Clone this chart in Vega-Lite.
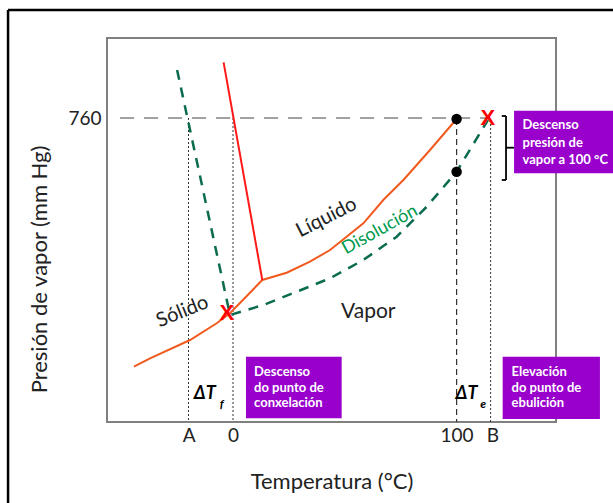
{
  "$schema": "https://vega.github.io/schema/vega-lite/v6.json",
  "width": 449,
  "height": 384,
  "autosize": {"type": "none"},
  "padding": {"left": 107, "top": 38, "right": 57, "bottom": 81},
  "background": "white",
  "config": {"font": "Lato", "view": {"stroke": "#808080", "strokeWidth": 2}},
  "datasets": {
    "frame": [
      {"T": -100.6, "P": 1030, "T2": 175, "P2": 1030},
      {"T": -100.6, "P": 1030, "T2": -100.6, "P2": -230}
    ],
    "boxes": [
      {"T": 125.7, "P": 778.25, "T2": 175, "P2": 621.75},
      {"T": 5.8, "P": 163.25, "T2": 48.6, "P2": 9.25},
      {"T": 120.6, "P": 163.25, "T2": 164.1, "P2": 7.5}
    ],
    "verts": [
      {"kind": "dot", "T": -19.9, "P": 760, "P2": 0},
      {"kind": "dot", "T": 0, "P": 760, "P2": 0},
      {"kind": "dot", "T": 115.2, "P": 755, "P2": 0},
      {"kind": "dash", "T": 100, "P": 757.5, "P2": 0}
    ],
    "hline": [{"T": -50.5, "T2": 114, "P": 760}],
    "bracket": [
      {"T": 120.2, "P": 765, "T2": 122.1, "P2": 765},
      {"T": 122.1, "P": 765, "T2": 122.1, "P2": 605},
      {"T": 120.2, "P": 605, "T2": 122.1, "P2": 605},
      {"T": 122.1, "P": 685.75, "T2": 125.7, "P2": 685.75}
    ],
    "curves": [
      {"curve": "green", "T": -25.0, "P": 880},
      {"curve": "green", "T": -1.34, "P": 267.5},
      {"curve": "green", "T": 13.55, "P": 292.5},
      {"curve": "green", "T": 28.49, "P": 325.75},
      {"curve": "green", "T": 43.38, "P": 359.25},
      {"curve": "green", "T": 58.27, "P": 405},
      {"curve": "green", "T": 73.21, "P": 463.25},
      {"curve": "green", "T": 86.63, "P": 538.25},
      {"curve": "green", "T": 100, "P": 625.75},
      {"curve": "green", "T": 114, "P": 755},
      {"curve": "orange", "T": -44.3, "P": 138.25},
      {"curve": "orange", "T": -37.1, "P": 159.25},
      {"curve": "orange", "T": -19.2, "P": 205},
      {"curve": "orange", "T": -7.3, "P": 246.75},
      {"curve": "orange", "T": -1.34, "P": 271.75},
      {"curve": "orange", "T": 13.1, "P": 355},
      {"curve": "orange", "T": 24.0, "P": 373.25},
      {"curve": "orange", "T": 34.4, "P": 400.75},
      {"curve": "orange", "T": 43.4, "P": 430},
      {"curve": "orange", "T": 58.3, "P": 496.75},
      {"curve": "orange", "T": 67.2, "P": 555},
      {"curve": "orange", "T": 76.2, "P": 605},
      {"curve": "orange", "T": 88.1, "P": 680},
      {"curve": "orange", "T": 100, "P": 757.5},
      {"curve": "red", "T": -4.2, "P": 899.25},
      {"curve": "red", "T": 13.1, "P": 355}
    ],
    "dots": [{"T": 100, "P": 757.5}, {"T": 100, "P": 625.75}],
    "xmarks": [{"T": 114, "P": 760, "text": "X"}, {"T": -2.8, "P": 271.75, "text": "X"}],
    "boxtext": [
      {"text": "Descenso", "T": 129.5, "P": 742.5},
      {"text": "presión de", "T": 129.5, "P": 696.75},
      {"text": "vapor a 100 °C", "T": 129.5, "P": 655},
      {"text": "Descenso", "T": 9.4, "P": 125.75},
      {"text": "do punto de", "T": 9.4, "P": 86.25},
      {"text": "conxelación", "T": 9.4, "P": 46.75},
      {"text": "Elevación", "T": 124.6, "P": 125.75},
      {"text": "do punto de", "T": 124.6, "P": 86.25},
      {"text": "ebulición", "T": 124.6, "P": 46.75}
    ],
    "delta": [{"text": "ΔT", "T": -12.6, "P": 70}, {"text": "ΔT", "T": 104.4, "P": 70}],
    "subs": [{"text": "f", "T": -5.0, "P": 46}, {"text": "e", "T": 111.9, "P": 46}]
  },
  "encoding": {
    "x": {
      "field": "T", "type": "quantitative",
      "scale": {"domain": [-56.35, 144.45], "nice": false, "zero": false},
      "axis": {
        "values": [-19.8, 0, 100, 116],
        "labelExpr": "datum.value < -10 ? 'A' : (datum.value > 110 ? 'B' : datum.label)",
        "domain": false, "ticks": false, "grid": false,
        "labelFontSize": 19, "labelColor": "#222", "labelPadding": 4,
        "title": "Temperatura (°C)", "titleFontSize": 22, "titleFontWeight": "normal",
        "titleColor": "#222", "titlePadding": 26
      }
    },
    "y": {
      "field": "P", "type": "quantitative",
      "scale": {"domain": [0, 960], "nice": false, "zero": false},
      "axis": {
        "values": [760], "labelExpr": "'760'",
        "domain": false, "ticks": false, "grid": false,
        "labelFontSize": 19, "labelColor": "#222", "labelPadding": 6,
        "title": "Presión de vapor (mm Hg)", "titleFontSize": 22, "titleFontWeight": "normal",
        "titleColor": "#222", "titleX": -68, "titleY": 231, "titleAngle": 270,
        "titleAlign": "center", "titleBaseline": "middle"
      }
    }
  },
  "layer": [
    {"data": {"name": "frame"}, "mark": {"type": "rule", "color": "black", "strokeWidth": 2.5},
     "encoding": {"x2": {"field": "T2"}, "y2": {"field": "P2"}}},
    {"data": {"name": "boxes"}, "mark": {"type": "rect", "color": "#9900cc"},
     "encoding": {"x2": {"field": "T2"}, "y2": {"field": "P2"}}},
    {"data": {"name": "verts"}, "transform": [{"filter": "datum.kind == 'dot'"}],
     "mark": {"type": "rule", "color": "#333", "strokeWidth": 1, "strokeDash": [2, 2]},
     "encoding": {"y2": {"field": "P2"}}},
    {"data": {"name": "verts"}, "transform": [{"filter": "datum.kind == 'dash'"}],
     "mark": {"type": "rule", "color": "#333", "strokeWidth": 1.2, "strokeDash": [6, 4]},
     "encoding": {"y2": {"field": "P2"}}},
    {"data": {"name": "hline"},
     "mark": {"type": "rule", "color": "#444", "strokeWidth": 1.2, "strokeDash": [14, 10]},
     "encoding": {"x2": {"field": "T2"}}},
    {"data": {"name": "bracket"}, "mark": {"type": "rule", "color": "black", "strokeWidth": 1.8},
     "encoding": {"x2": {"field": "T2"}, "y2": {"field": "P2"}}},
    {"data": {"name": "curves"}, "transform": [{"filter": "datum.curve == 'green'"}],
     "mark": {"type": "line", "color": "#0b6b4f", "strokeWidth": 2.5, "strokeDash": [10, 8]},
     "encoding": {}},
    {"data": {"name": "curves"}, "transform": [{"filter": "datum.curve == 'orange'"}],
     "mark": {"type": "line", "color": "#f05a1e", "strokeWidth": 2},
     "encoding": {}},
    {"data": {"name": "curves"}, "transform": [{"filter": "datum.curve == 'red'"}],
     "mark": {"type": "line", "color": "#ff1a1a", "strokeWidth": 2},
     "encoding": {}},
    {"data": {"name": "dots"}, "mark": {"type": "point", "filled": true, "color": "black", "size": 110, "opacity": 1},
     "encoding": {}},
    {"data": {"name": "xmarks"},
     "mark": {"type": "text", "color": "#ff0000", "font": "Liberation Sans", "fontWeight": "bold", "fontSize": 22, "align": "center", "baseline": "middle"},
     "encoding": {"text": {"field": "text"}}},
    {"data": {"values": [{"text": "Sólido", "T": -22.6, "P": 275.75}]},
     "mark": {"type": "text", "color": "#222", "fontSize": 20, "angle": -22, "align": "center", "baseline": "middle"},
     "encoding": {"text": {"field": "text"}}},
    {"data": {"values": [{"text": "Líquido", "T": 41.8, "P": 511.25}]},
     "mark": {"type": "text", "color": "#222", "fontSize": 20, "angle": -27, "align": "center", "baseline": "middle"},
     "encoding": {"text": {"field": "text"}}},
    {"data": {"values": [{"text": "Disolución", "T": 65.7, "P": 480}]},
     "mark": {"type": "text", "color": "#00994d", "fontSize": 18, "angle": -29, "align": "center", "baseline": "middle"},
     "encoding": {"text": {"field": "text"}}},
    {"data": {"values": [{"text": "Vapor", "T": 60.5, "P": 275.75}]},
     "mark": {"type": "text", "color": "#222", "fontSize": 21, "align": "center", "baseline": "middle"},
     "encoding": {"text": {"field": "text"}}},
    {"data": {"name": "delta"},
     "mark": {"type": "text", "color": "black", "fontSize": 18, "fontWeight": "bold", "fontStyle": "italic", "align": "center", "baseline": "middle"},
     "encoding": {"text": {"field": "text"}}},
    {"data": {"name": "subs"},
     "mark": {"type": "text", "color": "black", "fontSize": 12, "fontWeight": "bold", "fontStyle": "italic", "align": "center", "baseline": "middle"},
     "encoding": {"text": {"field": "text"}}},
    {"data": {"name": "boxtext"},
     "mark": {"type": "text", "color": "white", "fontSize": 13, "fontWeight": "bold", "align": "left", "baseline": "middle"},
     "encoding": {"text": {"field": "text"}}}
  ]
}
